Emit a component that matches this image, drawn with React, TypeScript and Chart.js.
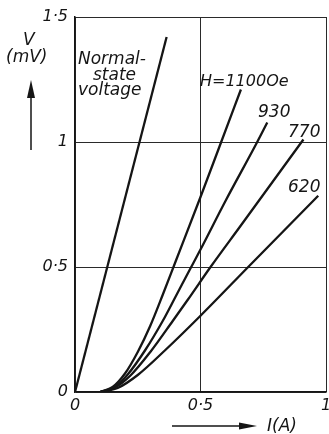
import React, { useEffect, useRef } from "react";
import { Chart, registerables } from "chart.js";

Chart.register(...registerables);

// Current I (A) and voltage V (mV)
const currentNormal = [0, 0.365];
const voltageNormal = [0, 1.42];

const current1100 = [0.1, 0.15, 0.2, 0.25, 0.3, 0.35, 0.4, 0.5, 0.575, 0.661];
const voltage1100 = [0, 0.02, 0.075, 0.16, 0.265, 0.39, 0.52, 0.78, 0.98, 1.21];

const current930 = [0.1, 0.16, 0.21, 0.28, 0.35, 0.4, 0.455, 0.5, 0.6, 0.726, 0.766];
const voltage930 = [0, 0.02, 0.07, 0.168, 0.285, 0.38, 0.485, 0.57, 0.765, 1.0, 1.078];

const current770 = [0.1, 0.16, 0.22, 0.3, 0.39, 0.45, 0.54, 0.66, 0.91];
const voltage770 = [0, 0.018, 0.065, 0.16, 0.285, 0.37, 0.5, 0.665, 1.01];

const current620 = [0.1, 0.17, 0.25, 0.36, 0.5, 0.69, 0.969];
const voltage620 = [0, 0.016, 0.068, 0.168, 0.305, 0.5, 0.785];

const xTicks = [0, 0.5, 1];
const yTicks = [0, 0.5, 1, 1.5];

const curveLabels = ["Normal-state voltage", "H=1100Oe", "930", "770", "620"];

const toPoints = (xs: number[], ys: number[]) => xs.map((x, i) => ({ x, y: ys[i] }));
const fmt = (v: number) => String(v).replace(".", "\u00b7");

const INK = "#151515";
const FONT = '"DejaVu Sans"';

const annotations = {
  id: "annotations",
  afterDraw(chart: any) {
    const { ctx } = chart;
    ctx.save();
    ctx.fillStyle = INK;
    ctx.strokeStyle = INK;
    ctx.textAlign = "left";
    ctx.textBaseline = "alphabetic";
    ctx.font = `italic 17px ${FONT}`;
    // Normal-state voltage label
    ctx.fillText("Normal-", 78, 64);
    ctx.fillText("state", 93, 80);
    ctx.fillText("voltage", 78, 95);
    // field labels
    ctx.font = `italic 16px ${FONT}`;
    ctx.fillText(curveLabels[1], 200, 86);
    ctx.font = `italic 17px ${FONT}`;
    ctx.fillText(curveLabels[2], 258, 117);
    ctx.fillText(curveLabels[3], 288, 137);
    ctx.fillText(curveLabels[4], 288, 192);

    // y axis title
    ctx.fillText("V", 23, 45);
    ctx.fillText("(mV)", 6, 62);
    ctx.lineWidth = 1.5;
    ctx.beginPath();
    ctx.moveTo(31, 150);
    ctx.lineTo(31, 95);
    ctx.stroke();
    ctx.beginPath();
    ctx.moveTo(31, 80);
    ctx.lineTo(27, 98);
    ctx.lineTo(35, 98);
    ctx.closePath();
    ctx.fill();

    // x axis title
    ctx.fillText("I(A)", 267, 431);
    ctx.beginPath();
    ctx.moveTo(172, 426);
    ctx.lineTo(245, 426);
    ctx.stroke();
    ctx.beginPath();
    ctx.moveTo(257, 426);
    ctx.lineTo(239, 422.5);
    ctx.lineTo(239, 429.5);
    ctx.closePath();
    ctx.fill();
    ctx.restore();
  },
};

export default function App() {
  const ref = useRef<HTMLCanvasElement | null>(null);
  useEffect(() => {
    if (!ref.current) return;
    const line = (xs: number[], ys: number[], label: string) => ({
      label,
      data: toPoints(xs, ys),
      showLine: true,
      borderColor: INK,
      borderWidth: 2.3,
      pointRadius: 0,
      fill: false,
      cubicInterpolationMode: "monotone" as const,
    });
    const tickFont = { family: FONT, size: 16, style: "italic" as const };
    const chart = new Chart(ref.current, {
      type: "scatter",
      data: {
        datasets: [
          line(currentNormal, voltageNormal, curveLabels[0]),
          line(current1100, voltage1100, curveLabels[1]),
          line(current930, voltage930, curveLabels[2]),
          line(current770, voltage770, curveLabels[3]),
          line(current620, voltage620, curveLabels[4]),
        ],
      },
      options: {
        animation: false,
        responsive: false,
        layout: { padding: { top: 17, right: 3, left: 0, bottom: 0 } },
        plugins: { legend: { display: false }, tooltip: { enabled: false } },
        scales: {
          x: {
            type: "linear",
            min: 0,
            max: 1,
            afterBuildTicks: (s: any) => {
              s.ticks = xTicks.map((v) => ({ value: v }));
            },
            afterFit: (s: any) => {
              s.height = 42;
              s.paddingLeft = 0;
              s.paddingRight = 0;
            },
            ticks: {
              font: tickFont,
              color: INK,
              padding: 4,
              maxRotation: 0,
              autoSkip: false,
              callback: (v: any) => fmt(Number(v)),
            },
            grid: { color: "#2a2a2a", lineWidth: 1, drawTicks: false },
            border: { display: true, color: INK, width: 1.5 },
          },
          y: {
            type: "linear",
            min: 0,
            max: 1.5,
            afterBuildTicks: (s: any) => {
              s.ticks = yTicks.map((v) => ({ value: v }));
            },
            afterFit: (s: any) => {
              s.width = 75;
              s.paddingTop = 0;
              s.paddingBottom = 0;
            },
            ticks: {
              font: tickFont,
              color: INK,
              padding: 7,
              autoSkip: false,
              callback: (v: any) => fmt(Number(v)),
            },
            grid: { color: "#2a2a2a", lineWidth: 1, drawTicks: false },
            border: { display: true, color: INK, width: 1.5 },
          },
        },
      },
      plugins: [annotations],
    });
    return () => chart.destroy();
  }, []);
  return (
    <div style={{ position: "absolute", left: 0, top: 0, width: 329, height: 434, background: "#fff" }}>
      <canvas ref={ref} width={329} height={434} />
    </div>
  );
}
